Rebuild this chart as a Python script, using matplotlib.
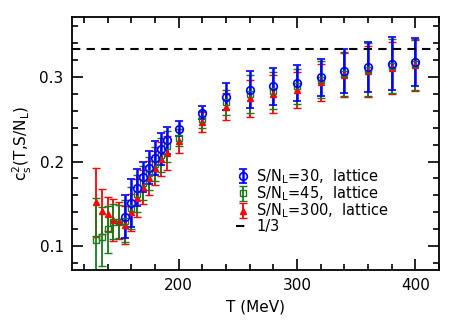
import numpy as np
import matplotlib
matplotlib.use('Agg')
import matplotlib.pyplot as plt
from matplotlib.ticker import MultipleLocator

# S/N_L = 30 (blue)
T_30 = [155, 160, 165, 170, 175, 180, 185, 190, 200, 220, 240, 260, 280, 300, 320, 340, 360, 380, 400]
cs2_30 = [0.135, 0.151, 0.169, 0.182, 0.193, 0.204, 0.215, 0.225, 0.239, 0.258, 0.277, 0.285, 0.289,
          0.293, 0.300, 0.307, 0.312, 0.316, 0.318]
err_30 = [0.026, 0.028, 0.022, 0.018, 0.020, 0.020, 0.019, 0.016, 0.009, 0.008, 0.016, 0.022, 0.022,
          0.021, 0.022, 0.026, 0.030, 0.031, 0.028]

# S/N_L = 45 (green)
T_45 = [130, 135, 140, 145, 150, 155, 160, 165, 170, 175, 180, 185, 190, 200, 220, 240, 260, 280,
        300, 320, 340, 360, 380, 400]
cs2_45 = [0.107, 0.111, 0.120, 0.129, 0.129, 0.130, 0.145, 0.162, 0.175, 0.186, 0.197, 0.208, 0.218,
          0.228, 0.250, 0.270, 0.280, 0.284, 0.289, 0.297, 0.304, 0.309, 0.313, 0.315]
err_45 = [0.050, 0.035, 0.028, 0.021, 0.020, 0.025, 0.025, 0.022, 0.020, 0.020, 0.020, 0.020, 0.018,
          0.010, 0.010, 0.015, 0.022, 0.022, 0.021, 0.022, 0.026, 0.031, 0.032, 0.030]

# S/N_L = 300 (red)
T_300 = T_45
cs2_300 = [0.152, 0.141, 0.138, 0.131, 0.130, 0.125, 0.140, 0.157, 0.170, 0.181, 0.192, 0.203, 0.210,
           0.224, 0.247, 0.265, 0.275, 0.280, 0.285, 0.294, 0.302, 0.307, 0.311, 0.314]
err_300 = [0.040, 0.027, 0.020, 0.025, 0.022, 0.022, 0.022, 0.022, 0.020, 0.020, 0.020, 0.020, 0.020,
           0.014, 0.012, 0.016, 0.022, 0.022, 0.021, 0.022, 0.026, 0.030, 0.031, 0.030]

labels = [r'S/N$_\mathregular{L}$=30,  lattice', r'S/N$_\mathregular{L}$=45,  lattice',
          r'S/N$_\mathregular{L}$=300,  lattice', '1/3']
conformal = 1.0 / 3.0

plt.rcParams['font.family'] = 'DejaVu Sans'
plt.rcParams['mathtext.default'] = 'regular'

fig = plt.figure(figsize=(4.63, 3.36), dpi=100)
ax = fig.add_axes([0.1555, 0.196, 0.793, 0.753])

eb_red = ax.errorbar(T_300, cs2_300, yerr=err_300, fmt='^', color='red', ms=4, mew=1.0,
                     elinewidth=1.3, capsize=3, capthick=1.3, label=labels[2])
eb_green = ax.errorbar(T_45, cs2_45, yerr=err_45, fmt='s', color='#1a7a1a', mfc='none', ms=4,
                       mew=1.0, elinewidth=1.3, capsize=3, capthick=1.3, label=labels[1])
eb_blue = ax.errorbar(T_30, cs2_30, yerr=err_30, fmt='o', color='blue', mfc='none', ms=5.5, mew=1.2,
                      elinewidth=1.8, capsize=3, capthick=1.4, label=labels[0])
line, = ax.plot([110, 420], [conformal, conformal], 'k--', lw=1.5, dashes=(4, 3), label=labels[3])

ax.set_xlim(110, 420)
ax.set_ylim(0.0715, 0.371)
ax.xaxis.set_major_locator(MultipleLocator(100))
ax.xaxis.set_minor_locator(MultipleLocator(20))
ax.yaxis.set_major_locator(MultipleLocator(0.1))
ax.yaxis.set_minor_locator(MultipleLocator(0.02))
ax.tick_params(which='both', direction='in', top=True, right=True, labelsize=11, width=1.2)
ax.tick_params(which='major', length=8, pad=6)
ax.tick_params(which='minor', length=4)
for s in ax.spines.values():
    s.set_linewidth(1.3)

ax.set_xlabel('T (MeV)', fontsize=11)
ax.set_ylabel(r'c$_\mathregular{s}^\mathregular{2}$(T,S/N$_\mathregular{L}$)', fontsize=11)

ax.legend([eb_blue, eb_green, eb_red, line], labels, loc='upper left',
          bbox_to_anchor=(0.43, 0.43), frameon=False, fontsize=10.5, handlelength=1.0,
          handletextpad=0.4, labelspacing=-0.1, borderaxespad=0)

fig.savefig('out.png', dpi=100)
